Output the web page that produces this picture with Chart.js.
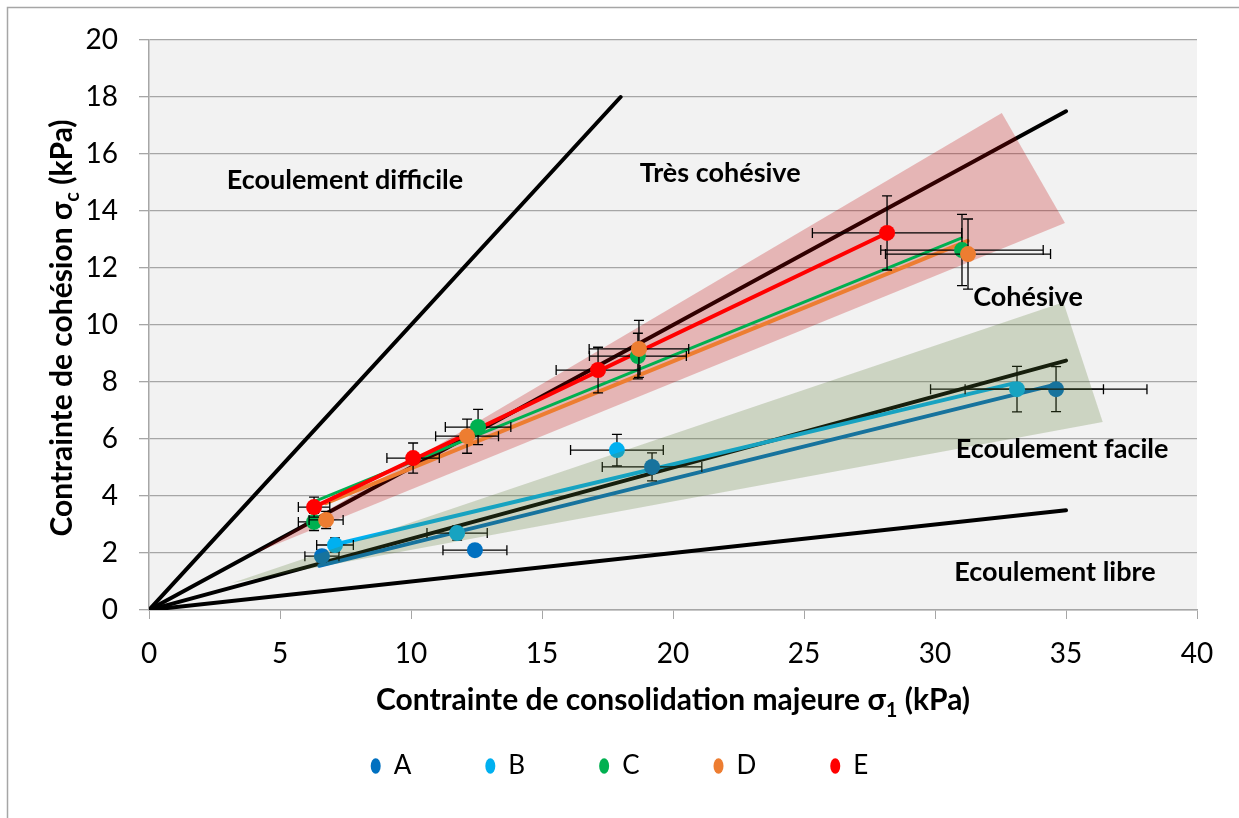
<!DOCTYPE html>
<html>
<head>
<meta charset="utf-8">
<script src="https://cdn.jsdelivr.net/npm/chart.js@4.4.1/dist/chart.umd.min.js"></script>
<style>
    html, body { margin: 0; padding: 0; background: #fff; }
    #wrap { width: 1239px; height: 818px; }
</style>
</head>
<body>
<div id="wrap"><canvas id="chart" width="1239" height="818"></canvas></div>
<script>
// Series names and colours
const seriesNames = ['A', 'B', 'C', 'D', 'E'];
const seriesColors = ['#0070C0', '#00B0F0', '#00B050', '#ED7D31', '#FF0000'];

// Measured points: sigma1 (kPa), sigmaC (kPa) and their error bars
const sigma1A = [6.6, 12.44, 19.2, 34.62];
const sigmaCA = [1.89, 2.1, 5.02, 7.75];
const errXA = [0.65, 1.22, 1.9, 3.47];
const errYA = [0.2, 0.1, 0.49, 0.79];

const sigma1B = [7.1, 11.76, 17.86, 33.13];
const sigmaCB = [2.28, 2.7, 5.61, 7.75];
const errXB = [0.7, 1.15, 1.77, 3.3];
const errYB = [0.25, 0.25, 0.55, 0.8];

const sigma1C = [6.3, 12.56, 18.66, 31.03];
const sigmaCC = [3.09, 6.42, 8.91, 12.63];
const errXC = [0.6, 1.25, 1.85, 3.1];
const errYC = [0.3, 0.62, 0.8, 1.25];

const sigma1D = [6.76, 12.14, 18.7, 31.26];
const sigmaCD = [3.16, 6.1, 9.16, 12.49];
const errXD = [0.65, 1.2, 1.9, 3.15];
const errYD = [0.3, 0.6, 1.0, 1.23];

const sigma1E = [6.3, 10.08, 17.14, 28.17];
const sigmaCE = [3.61, 5.33, 8.42, 13.23];
const errXE = [0.6, 1.0, 1.6, 2.85];
const errYE = [0.35, 0.53, 0.8, 1.3];

// Fitted lines (end points)
const fitXA = [6.5, 34.55], fitYA = [1.55, 7.9];
const fitXB = [7.1, 33.0], fitYB = [2.3, 7.95];
const fitXC = [6.3, 31.0], fitYC = [3.8, 13.05];
const fitXD = [6.75, 31.25], fitYD = [3.75, 12.95];
const fitXE = [6.3, 28.17], fitYE = [3.61, 13.23];

// Flowability limits (ffc = 1, 2, 4, 10)
const limitX = [[0, 18], [0, 35], [0, 35], [0, 35]];
const limitY = [[0, 18], [0, 17.5], [0, 8.75], [0, 3.5]];

// Shaded zones
const zoneCohesiveX = [4.05, 32.55, 34.96];
const zoneCohesiveY = [2.0, 17.44, 13.58];
const zoneEasyX = [3.17, 34.9, 36.4];
const zoneEasyY = [0.95, 10.8, 6.6];

// Zone labels
const zoneLabels = ['Ecoulement difficile', 'Très cohésive', 'Cohésive', 'Ecoulement facile', 'Ecoulement libre'];
const zoneLabelX = [7.48, 21.8, 33.55, 34.85, 34.58];
const zoneLabelY = [15.09, 15.33, 10.98, 5.65, 1.33];

const FONT = 'Lato';

function pts(xs, ys) {
    return xs.map((x, i) => ({ x: x, y: ys[i] }));
}

function pointSet(i, xs, ys, ex, ey) {
    return {
        label: seriesNames[i],
        data: pts(xs, ys),
        errX: ex,
        errY: ey,
        inLegend: true,
        showLine: false,
        pointRadius: 8,
        pointHoverRadius: 8,
        pointBackgroundColor: seriesColors[i],
        pointBorderColor: seriesColors[i],
        pointBorderWidth: 0,
        backgroundColor: seriesColors[i],
        borderColor: seriesColors[i]
    };
}

function lineSet(xs, ys, color, width) {
    return {
        label: '',
        data: pts(xs, ys),
        showLine: true,
        borderColor: color,
        borderWidth: width,
        borderCapStyle: 'round',
        pointRadius: 0,
        pointHoverRadius: 0,
        fill: false
    };
}

function zoneSet(xs, ys, color) {
    return {
        label: '',
        data: pts(xs, ys),
        showLine: true,
        borderColor: 'transparent',
        borderWidth: 0,
        backgroundColor: color,
        pointRadius: 0,
        pointHoverRadius: 0,
        fill: 'shape'
    };
}

// first dataset is drawn on top
const datasets = [
    pointSet(4, sigma1E, sigmaCE, errXE, errYE),
    pointSet(3, sigma1D, sigmaCD, errXD, errYD),
    pointSet(2, sigma1C, sigmaCC, errXC, errYC),
    lineSet(fitXE, fitYE, seriesColors[4], 4),
    lineSet(fitXC, fitYC, seriesColors[2], 3),
    lineSet(fitXD, fitYD, seriesColors[3], 4),
    zoneSet(zoneCohesiveX, zoneCohesiveY, 'rgba(192, 0, 0, 0.25)'),
    zoneSet(zoneEasyX, zoneEasyY, 'rgba(90, 125, 50, 0.25)'),
    pointSet(1, sigma1B, sigmaCB, errXB, errYB),
    pointSet(0, sigma1A, sigmaCA, errXA, errYA),
    lineSet(fitXB, fitYB, seriesColors[1], 4),
    lineSet(fitXA, fitYA, seriesColors[0], 4)
];
limitX.forEach((xs, i) => datasets.push(lineSet(xs, limitY[i], '#000000', 4)));

// text with a subscript part, centred on (x, y)
function drawSubText(ctx, before, sub, after, x, y, size) {
    const main = `bold ${size}px ${FONT}`;
    const small = `bold ${Math.round(size * 0.65)}px ${FONT}`;
    ctx.font = main;
    const w1 = ctx.measureText(before).width;
    const w3 = ctx.measureText(after).width;
    ctx.font = small;
    const w2 = ctx.measureText(sub).width;
    let cx = x - (w1 + w2 + w3) / 2;
    ctx.textAlign = 'left';
    ctx.textBaseline = 'alphabetic';
    ctx.font = main;
    ctx.fillText(before, cx, y);
    cx += w1;
    ctx.font = small;
    ctx.fillText(sub, cx, y + size * 0.22);
    cx += w2;
    ctx.font = main;
    ctx.fillText(after, cx, y);
}

const decorPlugin = {
    id: 'decor',
    beforeDraw(chart) {
        const { ctx, chartArea } = chart;
        ctx.save();
        ctx.fillStyle = '#F2F2F2';
        ctx.fillRect(chartArea.left, chartArea.top, chartArea.right - chartArea.left, chartArea.bottom - chartArea.top);
        ctx.strokeStyle = '#A6A6A6';
        ctx.lineWidth = 1.5;
        ctx.beginPath();
        ctx.moveTo(7.5, chart.height);
        ctx.lineTo(7.5, 7.5);
        ctx.lineTo(chart.width, 7.5);
        ctx.stroke();
        ctx.restore();
    },
    beforeDatasetDraw(chart, args) {
        const ds = chart.data.datasets[args.index];
        if (!ds.errX) return;
        const { ctx } = chart;
        const xs = chart.scales.x, ys = chart.scales.y;
        const cap = 5;
        ctx.save();
        ctx.strokeStyle = '#000000';
        ctx.lineWidth = 1.3;
        ds.data.forEach((p, i) => {
            const px = xs.getPixelForValue(p.x);
            const py = ys.getPixelForValue(p.y);
            const x0 = xs.getPixelForValue(p.x - ds.errX[i]);
            const x1 = xs.getPixelForValue(p.x + ds.errX[i]);
            const y0 = ys.getPixelForValue(p.y - ds.errY[i]);
            const y1 = ys.getPixelForValue(p.y + ds.errY[i]);
            ctx.beginPath();
            ctx.moveTo(x0, py); ctx.lineTo(x1, py);
            ctx.moveTo(x0, py - cap); ctx.lineTo(x0, py + cap);
            ctx.moveTo(x1, py - cap); ctx.lineTo(x1, py + cap);
            ctx.moveTo(px, y0); ctx.lineTo(px, y1);
            ctx.moveTo(px - cap, y0); ctx.lineTo(px + cap, y0);
            ctx.moveTo(px - cap, y1); ctx.lineTo(px + cap, y1);
            ctx.stroke();
        });
        ctx.restore();
    },
    afterDatasetsDraw(chart) {
        const { ctx } = chart;
        const xs = chart.scales.x, ys = chart.scales.y;
        ctx.save();
        ctx.fillStyle = '#000000';
        ctx.font = `bold 27px ${FONT}`;
        ctx.textAlign = 'center';
        ctx.textBaseline = 'middle';
        zoneLabels.forEach((t, i) => {
            ctx.fillText(t, xs.getPixelForValue(zoneLabelX[i]), ys.getPixelForValue(zoneLabelY[i]));
        });
        ctx.restore();
    },
    afterDraw(chart) {
        const { ctx } = chart;
        ctx.save();
        ctx.fillStyle = '#000000';
        drawSubText(ctx, 'Contrainte de consolidation majeure σ', '1', ' (kPa)', 673, 710, 30);
        ctx.translate(72, 328);
        ctx.rotate(-Math.PI / 2);
        drawSubText(ctx, 'Contrainte de cohésion σ', 'c', ' (kPa)', 0, 0, 30);
        ctx.restore();
    }
};

new Chart(document.getElementById('chart'), {
    type: 'scatter',
    data: { datasets: datasets },
    plugins: [decorPlugin],
    options: {
        responsive: false,
        animation: false,
        devicePixelRatio: 1,
        layout: { padding: { left: 0, right: 0, top: 40, bottom: 29 } },
        plugins: {
            tooltip: { enabled: false },
            legend: {
                position: 'bottom',
                labels: {
                    usePointStyle: true,
                    pointStyle: 'circle',
                    boxHeight: 11,
                    pointStyleWidth: 10,
                    padding: 74,
                    color: '#000000',
                    font: { family: FONT, size: 26 },
                    filter: (item, data) => data.datasets[item.datasetIndex].inLegend === true,
                    sort: (a, b) => a.text.localeCompare(b.text)
                }
            }
        },
        scales: {
            x: {
                type: 'linear',
                min: 0,
                max: 40,
                ticks: { stepSize: 5, padding: 18, color: '#000000', font: { family: FONT, size: 28 } },
                grid: { drawOnChartArea: false, drawTicks: true, tickLength: 9, color: '#A6A6A6' },
                border: { color: '#A6A6A6', width: 1.5 },
                afterFit(scale) { scale.height = 69; }
            },
            y: {
                type: 'linear',
                min: 0,
                max: 20,
                ticks: { stepSize: 2, padding: 21, color: '#000000', font: { family: FONT, size: 28 } },
                grid: { color: '#A6A6A6', lineWidth: 1.3, tickLength: 10 },
                border: { color: '#A6A6A6', width: 1.5 },
                afterFit(scale) { scale.width = 149; }
            },
            // empty right margin so the legend is centred on the whole figure
            yRight: {
                type: 'linear',
                position: 'right',
                min: 0,
                max: 20,
                ticks: { display: false },
                grid: { display: false, drawTicks: false },
                border: { display: false },
                afterFit(scale) { scale.width = 42; }
            }
        }
    }
});
</script>
</body>
</html>
